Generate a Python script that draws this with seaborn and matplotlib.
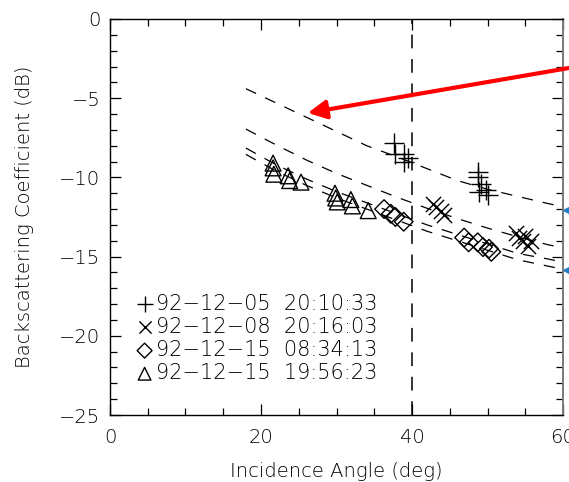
import numpy as np
import pandas as pd
import matplotlib
matplotlib.use("Agg")
import matplotlib.pyplot as plt
import seaborn as sns
from matplotlib.ticker import MultipleLocator

# ---- model curves (dashed) ----
curve_x = [18, 22, 26, 30, 34, 38, 42, 46, 50, 54, 58, 60]
curve_a = [-4.4, -5.3, -6.2, -7.1, -8.0, -8.7, -9.45, -10.2, -10.75, -11.2, -11.65, -11.85]
curve_b = [-6.95, -7.95, -8.9, -9.75, -10.5, -11.25, -11.95, -12.6, -13.2, -13.75, -14.25, -14.45]
curve_c = [-8.15, -9.2, -10.1, -10.9, -11.6, -12.3, -13.0, -13.6, -14.2, -14.8, -15.15, -15.35]
curve_d = [-8.55, -9.6, -10.5, -11.3, -12.0, -12.7, -13.4, -14.0, -14.6, -15.2, -15.6, -15.8]

# ---- measurements ----
labels = ["92\u221212\u221205  20:10:33",
          "92\u221212\u221208  20:16:03",
          "92\u221212\u221215  08:34:13",
          "92\u221212\u221215  19:56:23"]

plus_x = [37.6, 37.8, 38.9, 39.0, 39.5, 48.8, 48.8, 49.2, 49.8, 50.0, 48.9]
plus_y = [-7.8, -8.5, -8.5, -9.0, -8.8, -9.65, -10.0, -10.4, -10.8, -11.1, -10.9]

cross_x = [42.8, 43.2, 43.8, 44.3, 53.8, 54.2, 54.7, 55.3, 55.8, 55.0]
cross_y = [-11.7, -11.9, -12.1, -12.35, -13.5, -13.8, -14.0, -14.3, -14.0, -13.7]

diam_x = [36.3, 37.2, 37.8, 38.9, 46.9, 47.5, 48.7, 49.4, 50.2, 50.5]
diam_y = [-12.0, -12.3, -12.5, -12.8, -13.8, -14.1, -14.1, -14.4, -14.5, -14.7]

tri_x = [21.6, 21.6, 21.7, 23.6, 23.8, 25.3, 29.8, 29.9, 30.1, 31.9, 32.1, 34.2]
tri_y = [-9.1, -9.4, -9.8, -9.9, -10.2, -10.3, -11.0, -11.3, -11.55, -11.4, -11.8, -12.1]

# marker arrows sitting on the right axis
side_y = [-12.05, -15.85]

sns.set_style("ticks")
plt.rcParams["font.family"] = ["DejaVu Sans"]
plt.rcParams["font.size"] = 14
plt.rcParams["font.weight"] = "light"
plt.rcParams["axes.labelweight"] = "light"
plt.rcParams["text.color"] = "black"
plt.rcParams["axes.labelcolor"] = "black"
plt.rcParams["xtick.labelcolor"] = "black"
plt.rcParams["ytick.labelcolor"] = "black"

fig = plt.figure(figsize=(5.69, 4.82), dpi=100)
ax = fig.add_axes([0.1933, 0.139, 0.7962, 0.8216])

for ys in (curve_a, curve_b, curve_c, curve_d):
    sns.lineplot(x=curve_x, y=ys, ax=ax, color="black", lw=0.9,
                 linestyle=(0, (9, 8)), sort=False, estimator=None)

ax.axvline(40, color="black", lw=1.1, linestyle=(0, (9, 7)))

sns.scatterplot(x=plus_x, y=plus_y, ax=ax, marker="+", s=200, color="black",
                linewidth=1.0, label=labels[0])
sns.scatterplot(x=cross_x, y=cross_y, ax=ax, marker="x", s=120, color="black",
                linewidth=1.0, label=labels[1])
sns.scatterplot(x=diam_x, y=diam_y, ax=ax, marker="D", s=90, facecolor="none",
                edgecolor="black", linewidth=1.0, label=labels[2])
sns.scatterplot(x=tri_x, y=tri_y, ax=ax, marker="^", s=130, facecolor="none",
                edgecolor="black", linewidth=1.0, label=labels[3])

ax.plot([60.4] * len(side_y), side_y, linestyle="none", marker="<",
        markersize=5, color="#1f7fc8", clip_on=False)

ax.annotate("", xy=(26.2, -5.93), xytext=(62.3, -2.97),
            arrowprops=dict(arrowstyle="-|>,head_length=0.55,head_width=0.28",
                            color="red", lw=3.0, shrinkA=0, shrinkB=0,
                            mutation_scale=20),
            annotation_clip=False)

ax.set_xlim(0, 60)
ax.set_ylim(-25, 0)
ax.xaxis.set_major_locator(MultipleLocator(20))
ax.xaxis.set_minor_locator(MultipleLocator(5))
ax.yaxis.set_major_locator(MultipleLocator(5))
ax.yaxis.set_minor_locator(MultipleLocator(1))
ax.tick_params(which="both", direction="in", top=True, right=True,
               color="black", width=0.9)
ax.tick_params(which="major", length=8)
ax.tick_params(which="minor", length=5)
ax.tick_params(axis="x", pad=9)
ax.tick_params(axis="y", pad=7)

for side in ("left", "bottom", "top"):
    ax.spines[side].set_color("black")
    ax.spines[side].set_linewidth(1.0)
ax.spines["right"].set_color("#7a7a7a")
ax.spines["right"].set_linewidth(1.4)

ax.set_xticks([0, 20, 40, 60])
ax.set_xticklabels(["0", "20", "40", "60"])
ax.set_yticks([0, -5, -10, -15, -20, -25])
ax.set_yticklabels(["0", "\u22125", "\u221210", "\u221215", "\u221220", "\u221225"])

ax.set_xlabel("Incidence Angle (deg)", fontsize=14)
ax.set_ylabel("Backscattering Coefficient (dB)", fontsize=14)
ax.xaxis.set_label_coords(0.5, -0.118)
ax.yaxis.set_label_coords(-0.168, 0.5)

leg = ax.legend(loc="upper left", bbox_to_anchor=(0.058, 0.306), frameon=False,
                fontsize=15, handlelength=0.8, handletextpad=0.15,
                labelspacing=0.15, borderpad=0, borderaxespad=0,
                markerscale=0.8)

fig.savefig("out.png", dpi=100)
